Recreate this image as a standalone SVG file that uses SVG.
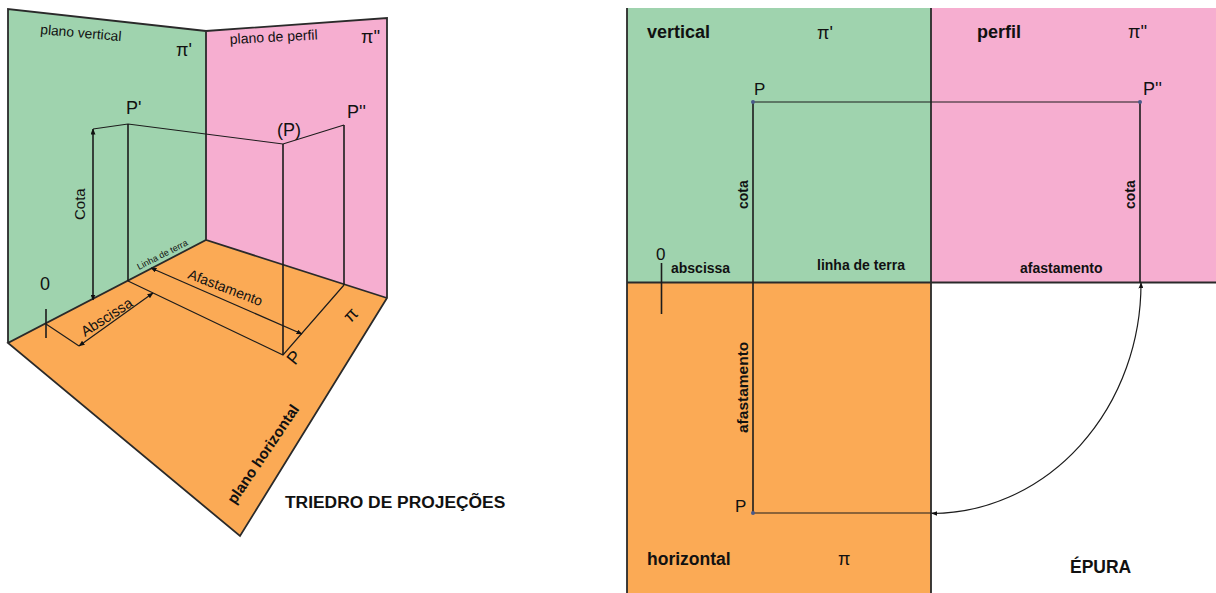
<svg xmlns="http://www.w3.org/2000/svg" width="1216" height="593" viewBox="0 0 1216 593">
<defs>
<marker id="arr" markerWidth="6" markerHeight="5" refX="5.500" refY="2.500" orient="auto-start-reverse" markerUnits="userSpaceOnUse"><path d="M0 0L6 2.500L0 5Z" fill="#111"/></marker>
</defs>
<style>
text{font-family:"Liberation Sans",Arial,sans-serif;fill:#111}
.b{font-weight:bold}
.e{stroke:#2a2a2a;stroke-width:1.8;fill:none}
.l{stroke:#1c1c1c;stroke-width:1.2;fill:none}
.t{stroke:#1c1c1c;stroke-width:1.6;fill:none}
.green{fill:#9fd3ae}.pink{fill:#f6aed0}.orange{fill:#fbaa55}
.dot{fill:#4a5a8a}
</style>
<g id="triedro-planos">
<polygon id="plano-vertical" class="green" points="8,9 206,31 206,240 8,343"/>
<polygon id="plano-perfil" class="pink" points="206,31 387,18 387,298 206,240"/>
<polygon id="plano-horizontal" class="orange" points="8,343 206,240 387,298 240,536"/>
<path class="e" d="M8,343V9L206,31L387,18V298L240,536L8,343L206,240L387,298M206,31V240"/>
</g>
<g id="epura-planos">
<rect id="ep-vertical" class="green" x="627" y="8" width="304" height="274.500"/>
<rect id="ep-perfil" class="pink" x="931" y="8" width="285" height="274.500"/>
<rect id="ep-horizontal" class="orange" x="627" y="282.500" width="304" height="310.500"/>
<path class="e" d="M627,8V593M931,8V593M627,282.500H1216"/>
</g>
<g id="connectors">
<path class="l" d="M93,129L128,124L283,144L344,125"/>
<path class="t" d="M128,124V281M283,144V355M344,125V285"/>
<path class="l" d="M128,281L283,355L344,285"/>
<path class="l" d="M46,324L79,346"/>
<path class="t" d="M46,309V338"/>
<path class="l" d="M79,346L153,293" marker-start="url(#arr)" marker-end="url(#arr)"/>
<path class="l" d="M151,268L302,334" marker-start="url(#arr)" marker-end="url(#arr)"/>
<path class="t" d="M93,129V300" marker-start="url(#arr)" marker-end="url(#arr)"/>
<path class="t" d="M753,102V513"/>
<path class="l" d="M753,513H936"/>
<path class="l" d="M753,102H1140"/>
<path class="t" d="M1140,102V283"/>
<path class="l" d="M1141,283A210 230 0 0 1 932,513.500" marker-start="url(#arr)" marker-end="url(#arr)"/>
<path class="t" d="M661.500,263V314"/>
<circle class="dot" cx="753" cy="102" r="2"/>
<circle class="dot" cx="1140" cy="102" r="2"/>
<circle class="dot" cx="753" cy="513" r="2"/>
</g>
<g id="triedro-textos">
<text x="40" y="34" font-size="13.800" transform="rotate(5 40 34)">plano vertical</text>
<text x="230" y="44" font-size="14" transform="rotate(-3 230 44)">plano de perfil</text>
<text x="176" y="56" font-size="18">π'</text>
<text x="361" y="43" font-size="18">π''</text>
<text x="126" y="114" font-size="18">P'</text>
<text x="277" y="136" font-size="18">(P)</text>
<text x="347" y="118" font-size="18">P''</text>
<text x="85" y="220" font-size="15" transform="rotate(-90 85 220)">Cota</text>
<text x="40" y="290" font-size="18">0</text>
<text x="139" y="270" font-size="9" transform="rotate(-27 139 270)">Linha de terra</text>
<text x="187" y="278" font-size="14" transform="rotate(21 187 278)">Afastamento</text>
<text x="85" y="337" font-size="14.500" transform="rotate(-33 85 337)">Abscissa</text>
<text x="295" y="366" font-size="18" transform="rotate(-51 295 366)">P</text>
<text x="355" y="319" font-size="18" text-anchor="middle" transform="rotate(-47 355 319)">π</text>
<text x="235" y="505" font-size="15" class="b" transform="rotate(-56 235 505)">plano horizontal</text>
<text x="285" y="508" font-size="17.400" class="b">TRIEDRO DE PROJEÇÕES</text>
</g>
<g id="epura-textos">
<text x="647" y="38" font-size="18" class="b">vertical</text>
<text x="817" y="39" font-size="18">π'</text>
<text x="977" y="38" font-size="18" class="b">perfil</text>
<text x="1128" y="38" font-size="18">π''</text>
<text x="754" y="95" font-size="17">P</text>
<text x="1143" y="95" font-size="18">P''</text>
<text x="748" y="209" font-size="14" class="b" transform="rotate(-90 748 209)">cota</text>
<text x="1135" y="209" font-size="14" class="b" transform="rotate(-90 1135 209)">cota</text>
<text x="656" y="260" font-size="17">0</text>
<text x="671" y="273" font-size="14" class="b">abscissa</text>
<text x="817" y="270" font-size="14" class="b">linha de terra</text>
<text x="1020" y="273" font-size="14" class="b">afastamento</text>
<text x="748" y="433" font-size="15.500" class="b" transform="rotate(-90 748 433)">afastamento</text>
<text x="735" y="512" font-size="17">P</text>
<text x="647" y="565" font-size="17.500" class="b">horizontal</text>
<text x="838" y="565" font-size="18">π</text>
<text x="1070" y="573" font-size="17.500" class="b">ÉPURA</text>
</g>
</svg>
